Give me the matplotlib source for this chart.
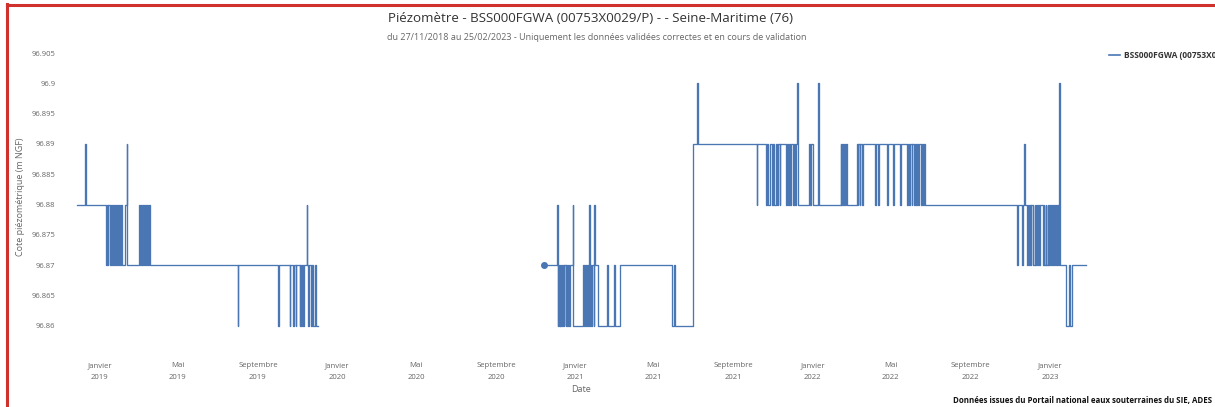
import pandas as pd
import matplotlib
matplotlib.use('Agg')
import matplotlib.pyplot as plt
from matplotlib.lines import Line2D

# data: level changes (date, level), two periods with a gap
dates_2018 = ['2018-11-27', '2018-12-09', '2018-12-11', '2019-01-10', '2019-01-12', '2019-01-13',
              '2019-01-14', '2019-01-16', '2019-01-18', '2019-01-19', '2019-01-21', '2019-01-23',
              '2019-01-24', '2019-01-26', '2019-01-28', '2019-01-29', '2019-01-31', '2019-02-01',
              '2019-02-03', '2019-02-04', '2019-02-08', '2019-02-11', '2019-02-12', '2019-03-02',
              '2019-03-04', '2019-03-05', '2019-03-07', '2019-03-08', '2019-03-10', '2019-03-11',
              '2019-03-13', '2019-03-14', '2019-03-16', '2019-03-17', '2019-03-19', '2019-08-01',
              '2019-08-02', '2019-10-02', '2019-10-03', '2019-10-20', '2019-10-21', '2019-10-25',
              '2019-10-26', '2019-10-29', '2019-10-30', '2019-11-04', '2019-11-05', '2019-11-06',
              '2019-11-08', '2019-11-09', '2019-11-11', '2019-11-15', '2019-11-16', '2019-11-17',
              '2019-11-19', '2019-11-21', '2019-11-23', '2019-11-25', '2019-11-27', '2019-11-29',
              '2019-12-03']
levels_2018 = [96.88, 96.89, 96.88, 96.87, 96.88, 96.87,
               96.88, 96.87, 96.88, 96.87, 96.88, 96.87,
               96.88, 96.87, 96.88, 96.87, 96.88, 96.87,
               96.88, 96.87, 96.88, 96.89, 96.87, 96.88,
               96.87, 96.88, 96.87, 96.88, 96.87, 96.88,
               96.87, 96.88, 96.87, 96.88, 96.87, 96.86,
               96.87, 96.86, 96.87, 96.86, 96.87, 96.86,
               96.87, 96.86, 96.87, 96.86, 96.87, 96.86,
               96.87, 96.86, 96.87, 96.88, 96.87, 96.86,
               96.87, 96.86, 96.87, 96.86, 96.87, 96.86,
               96.86]

dates_2020 = ['2020-11-14', '2020-12-04', '2020-12-05', '2020-12-06', '2020-12-07', '2020-12-08',
              '2020-12-09', '2020-12-10', '2020-12-11', '2020-12-13', '2020-12-14', '2020-12-15',
              '2020-12-17', '2020-12-18', '2020-12-19', '2020-12-21', '2020-12-22', '2020-12-24',
              '2020-12-28', '2020-12-29', '2021-01-13', '2021-01-14', '2021-01-16', '2021-01-18',
              '2021-01-19', '2021-01-21', '2021-01-22', '2021-01-23', '2021-01-24', '2021-01-25',
              '2021-01-27', '2021-01-29', '2021-01-30', '2021-01-31', '2021-02-05', '2021-02-19',
              '2021-02-20', '2021-03-02', '2021-03-03', '2021-03-11', '2021-05-30', '2021-06-01',
              '2021-06-04', '2021-07-01', '2021-07-07', '2021-07-08', '2021-10-07', '2021-10-08',
              '2021-10-21', '2021-10-23', '2021-10-25', '2021-10-27', '2021-10-30', '2021-11-01',
              '2021-11-03', '2021-11-05', '2021-11-07', '2021-11-09', '2021-11-11', '2021-11-12',
              '2021-11-21', '2021-11-22', '2021-11-24', '2021-11-26', '2021-11-27', '2021-11-29',
              '2021-12-01', '2021-12-03', '2021-12-05', '2021-12-06', '2021-12-08', '2021-12-09',
              '2021-12-26', '2021-12-28', '2021-12-30', '2022-01-02', '2022-01-09', '2022-01-10',
              '2022-02-13', '2022-02-14', '2022-02-15', '2022-02-17', '2022-02-18', '2022-02-20',
              '2022-02-21', '2022-02-23', '2022-03-10', '2022-03-11', '2022-03-12', '2022-03-14',
              '2022-03-15', '2022-03-17', '2022-03-19', '2022-04-07', '2022-04-08', '2022-04-12',
              '2022-04-13', '2022-04-25', '2022-04-26', '2022-05-05', '2022-05-06', '2022-05-15',
              '2022-05-16', '2022-05-26', '2022-05-27', '2022-05-29', '2022-05-31', '2022-06-02',
              '2022-06-03', '2022-06-05', '2022-06-07', '2022-06-09', '2022-06-10', '2022-06-12',
              '2022-06-14', '2022-06-16', '2022-06-18', '2022-06-20', '2022-06-21', '2022-06-23',
              '2022-11-11', '2022-11-12', '2022-11-19', '2022-11-20', '2022-11-22', '2022-11-23',
              '2022-11-26', '2022-11-28', '2022-11-29', '2022-12-01', '2022-12-02', '2022-12-03',
              '2022-12-06', '2022-12-08', '2022-12-09', '2022-12-11', '2022-12-12', '2022-12-14',
              '2022-12-15', '2022-12-16', '2022-12-21', '2022-12-22', '2022-12-23', '2022-12-25',
              '2022-12-26', '2022-12-28', '2022-12-29', '2022-12-31', '2023-01-01', '2023-01-03',
              '2023-01-04', '2023-01-06', '2023-01-07', '2023-01-09', '2023-01-10', '2023-01-12',
              '2023-01-13', '2023-01-15', '2023-01-16', '2023-01-26', '2023-01-30', '2023-01-31',
              '2023-02-04', '2023-02-25']
levels_2020 = [96.87, 96.88, 96.86, 96.87, 96.86, 96.87,
               96.86, 96.87, 96.86, 96.87, 96.86, 96.87,
               96.86, 96.87, 96.86, 96.87, 96.86, 96.87,
               96.88, 96.86, 96.87, 96.86, 96.87, 96.86,
               96.87, 96.86, 96.88, 96.86, 96.87, 96.86,
               96.87, 96.86, 96.88, 96.87, 96.86, 96.87,
               96.86, 96.87, 96.86, 96.87, 96.86, 96.87,
               96.86, 96.89, 96.90, 96.89, 96.88, 96.89,
               96.88, 96.89, 96.88, 96.89, 96.88, 96.89,
               96.88, 96.89, 96.88, 96.89, 96.88, 96.89,
               96.88, 96.89, 96.88, 96.89, 96.88, 96.89,
               96.88, 96.89, 96.88, 96.89, 96.90, 96.88,
               96.89, 96.88, 96.89, 96.88, 96.90, 96.88,
               96.89, 96.88, 96.89, 96.88, 96.89, 96.88,
               96.89, 96.88, 96.89, 96.88, 96.89, 96.88,
               96.89, 96.88, 96.89, 96.88, 96.89, 96.88,
               96.89, 96.88, 96.89, 96.88, 96.89, 96.88,
               96.89, 96.88, 96.89, 96.88, 96.89, 96.88,
               96.89, 96.88, 96.89, 96.88, 96.89, 96.88,
               96.89, 96.88, 96.89, 96.88, 96.89, 96.88,
               96.87, 96.88, 96.87, 96.88, 96.89, 96.88,
               96.87, 96.88, 96.87, 96.88, 96.87, 96.88,
               96.87, 96.88, 96.87, 96.88, 96.87, 96.88,
               96.87, 96.88, 96.87, 96.88, 96.87, 96.88,
               96.87, 96.88, 96.87, 96.88, 96.87, 96.88,
               96.87, 96.88, 96.87, 96.88, 96.87, 96.88,
               96.87, 96.90, 96.87, 96.86, 96.87, 96.86,
               96.87, 96.87]

tick_dates = ['2019-01-01', '2019-05-01', '2019-09-01', '2020-01-01', '2020-05-01', '2020-09-01',
              '2021-01-01', '2021-05-01', '2021-09-01', '2022-01-01', '2022-05-01', '2022-09-01',
              '2023-01-01']
tick_labels = ['Janvier\n2019', 'Mai\n2019', 'Septembre\n2019', 'Janvier\n2020', 'Mai\n2020',
               'Septembre\n2020', 'Janvier\n2021', 'Mai\n2021', 'Septembre\n2021', 'Janvier\n2022',
               'Mai\n2022', 'Septembre\n2022', 'Janvier\n2023']
y_ticks = [96.86, 96.865, 96.87, 96.875, 96.88, 96.885, 96.89, 96.895, 96.9, 96.905]

plt.rcParams['font.family'] = ['Open Sans', 'DejaVu Sans']

W, H = 1215, 407
fig = plt.figure(figsize=(W / 100, H / 100), dpi=100)
left, right, top, bottom = 68, 1095, 53, 341
ax = fig.add_axes([left / W, 1 - bottom / H, (right - left) / W, (bottom - top) / H])

line_color = '#4a77b4'
d1 = pd.to_datetime(dates_2018)
d2 = pd.to_datetime(dates_2020)
ax.plot(d1, levels_2018, drawstyle='steps-post', color=line_color, lw=0.95)
ax.plot(d2, levels_2020, drawstyle='steps-post', color=line_color, lw=0.95)
ax.plot(d2[:1], levels_2020[:1], 'o', color=line_color, ms=4)

ax.set_xlim(pd.Timestamp('2018-11-13'), pd.Timestamp('2023-03-11'))
ax.set_ylim(96.8575, 96.905)
ax.set_yticks(y_ticks)
ax.set_yticklabels([f'{v:g}' for v in y_ticks], fontsize=5.5, color='#666666')
ax.set_xticks(pd.to_datetime(tick_dates))
ax.set_xticklabels(tick_labels, fontsize=5.6, color='#666666', linespacing=2.0)
ax.tick_params(axis='both', length=0)
ax.tick_params(axis='x', pad=15)
ax.tick_params(axis='y', pad=9)
for s in ax.spines.values():
    s.set_visible(False)

ax.set_ylabel('Cote piézométrique (m NGF)', fontsize=6.5, color='#666666', labelpad=5)
ax.set_xlabel('Date', fontsize=6.5, color='#666666', labelpad=3)

fig.text(591 / W, 1 - 18 / H, 'Piézomètre - BSS000FGWA (00753X0029/P) - - Seine-Maritime (76)',
         ha='center', va='center', fontsize=9.6, color='#333333')
fig.text(597 / W, 1 - 37 / H,
         'du 27/11/2018 au 25/02/2023 - Uniquement les données validées correctes et en cours de validation',
         ha='center', va='center', fontsize=6.5, color='#666666')

# legend (cut at the right edge, as in the original)
fig.add_artist(Line2D([1109 / W, 1120 / W], [1 - 55 / H, 1 - 55 / H], color=line_color, lw=1.2))
fig.text(1124 / W, 1 - 55 / H, 'BSS000FGWA (00753X0029/P)', ha='left', va='center',
         fontsize=6.0, color='#333333', fontweight='bold')

fig.text(1212 / W, 1 - 401 / H, 'Données issues du Portail national eaux souterraines du SIE, ADES',
         ha='right', va='center', fontsize=5.7, color='#111111', fontweight='bold')

# red frame
red = '#d0312d'
fig.add_artist(Line2D([7 / W, 7 / W], [0, 1 - 4 / H], color=red, lw=2.2))
fig.add_artist(Line2D([7 / W, 1], [1 - 5 / H, 1 - 5 / H], color=red, lw=2.2))

fig.savefig('out.png', dpi=100)
